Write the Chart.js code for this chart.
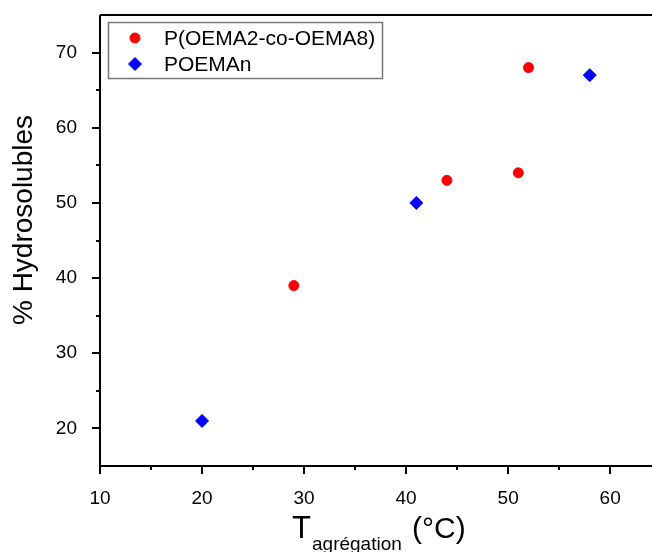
<!DOCTYPE html>
<html>
<head>
<meta charset="utf-8">
<script src="https://cdn.jsdelivr.net/npm/chart.js@4/dist/chart.umd.min.js"></script>
<style>
  body { margin: 0; background: #fff; }
  #wrap { width: 652px; height: 552px; }
</style>
</head>
<body>
<div id="wrap"><canvas id="chart" width="652" height="552"></canvas></div>
<script>
// data
const copoX = [29, 44, 51, 52];
const copoY = [39, 53, 54, 68];
const homoX = [20, 41, 58];
const homoY = [21, 50, 67];

const xTicks = [10, 20, 30, 40, 50, 60];
const xMinor = [15, 25, 35, 45, 55];
const yTicks = [20, 30, 40, 50, 60, 70];
const yMinor = [25, 35, 45, 55, 65];

const seriesNames = ['P(OEMA2-co-OEMA8)', 'POEMAn'];
const yTitle = '% Hydrosolubles';
const xTitleMain = 'T';
const xTitleSub = 'agrégation';
const xTitleUnit = '(°C)';

const FONT = '"Liberation Sans", Arial, sans-serif';

const toPoints = (xs, ys) => xs.map((x, i) => ({ x: x, y: ys[i] }));

// axes frame, ticks (major + minor), titles and boxed legend
const decor = {
    id: 'decor',
    afterDraw(chart) {
        const ctx = chart.ctx;
        const area = chart.chartArea;
        const xs = chart.scales.x;
        const ys = chart.scales.y;
        ctx.save();
        ctx.strokeStyle = '#000';
        ctx.lineWidth = 2;
        ctx.beginPath();
        ctx.moveTo(area.left, area.top);
        ctx.lineTo(area.right, area.top);
        ctx.moveTo(area.left, area.top);
        ctx.lineTo(area.left, area.bottom);
        ctx.lineTo(area.right, area.bottom);
        ctx.stroke();

        ctx.beginPath();
        xTicks.forEach(v => {
            const px = Math.round(xs.getPixelForValue(v));
            ctx.moveTo(px, area.bottom); ctx.lineTo(px, area.bottom + 8);
        });
        xMinor.forEach(v => {
            const px = Math.round(xs.getPixelForValue(v));
            ctx.moveTo(px, area.bottom); ctx.lineTo(px, area.bottom + 4);
        });
        yTicks.forEach(v => {
            const py = Math.round(ys.getPixelForValue(v));
            ctx.moveTo(area.left, py); ctx.lineTo(area.left - 8, py);
        });
        yMinor.forEach(v => {
            const py = Math.round(ys.getPixelForValue(v));
            ctx.moveTo(area.left, py); ctx.lineTo(area.left - 4, py);
        });
        ctx.stroke();

        // y title
        ctx.fillStyle = '#000';
        ctx.save();
        ctx.translate(32, 220);
        ctx.rotate(-Math.PI / 2);
        ctx.font = '28px ' + FONT;
        ctx.textAlign = 'center';
        ctx.textBaseline = 'alphabetic';
        ctx.fillText(yTitle, 0, 0);
        ctx.restore();

        // x title with subscript
        ctx.textBaseline = 'alphabetic';
        ctx.textAlign = 'left';
        ctx.font = '31px ' + FONT;
        ctx.fillText(xTitleMain, 292, 538);
        ctx.font = '19px ' + FONT;
        ctx.fillText(xTitleSub, 312, 550);
        ctx.font = '30px ' + FONT;
        ctx.fillText(xTitleUnit, 412, 538);

        // legend box
        ctx.strokeStyle = '#777';
        ctx.lineWidth = 1.5;
        ctx.strokeRect(108.5, 22.5, 274, 56);
        ctx.font = '21px ' + FONT;
        ctx.textBaseline = 'middle';
        chart.data.datasets.forEach((ds, i) => {
            const y = 38 + i * 26;
            ctx.fillStyle = ds.backgroundColor;
            ctx.strokeStyle = ds.borderColor;
            ctx.lineWidth = 1;
            Chart.helpers.drawPoint(ctx, {
                pointStyle: ds.pointStyle,
                radius: ds.pointRadius,
                borderWidth: 1,
                rotation: 0
            }, 135, y);
            ctx.fillStyle = '#000';
            ctx.fillText(ds.label, 164, y + 1);
        });
        ctx.restore();
    }
};

new Chart(document.getElementById('chart'), {
    type: 'scatter',
    data: {
        datasets: [
            {
                label: seriesNames[0],
                data: toPoints(copoX, copoY),
                pointStyle: 'circle',
                pointRadius: 5,
                backgroundColor: '#ff0000',
                borderColor: '#ff0000',
                borderWidth: 1
            },
            {
                label: seriesNames[1],
                data: toPoints(homoX, homoY),
                pointStyle: 'rectRot',
                pointRadius: 6.5,
                backgroundColor: '#0000ff',
                borderColor: '#0000ff',
                borderWidth: 1
            }
        ]
    },
    options: {
        responsive: false,
        animation: false,
        layout: { autoPadding: false, padding: { top: 15, right: 0, left: 0, bottom: 0 } },
        plugins: {
            legend: { display: false },
            tooltip: { enabled: false }
        },
        scales: {
            x: {
                type: 'linear',
                min: 10,
                max: 64.1,
                grid: { display: false },
                border: { display: false },
                afterBuildTicks: s => { s.ticks = xTicks.map(v => ({ value: v })); },
                afterFit: s => { s.height = 86; s.paddingLeft = 0; s.paddingRight = 0; },
                ticks: {
                    color: '#000',
                    padding: 13,
                    font: { family: FONT, size: 19 }
                }
            },
            y: {
                type: 'linear',
                min: 15,
                max: 75,
                grid: { display: false },
                border: { display: false },
                afterBuildTicks: s => { s.ticks = yTicks.map(v => ({ value: v })); },
                afterFit: s => { s.width = 100; s.paddingTop = 0; s.paddingBottom = 0; },
                ticks: {
                    color: '#000',
                    padding: 15,
                    font: { family: FONT, size: 19 }
                }
            }
        }
    },
    plugins: [decor]
});
</script>
</body>
</html>
